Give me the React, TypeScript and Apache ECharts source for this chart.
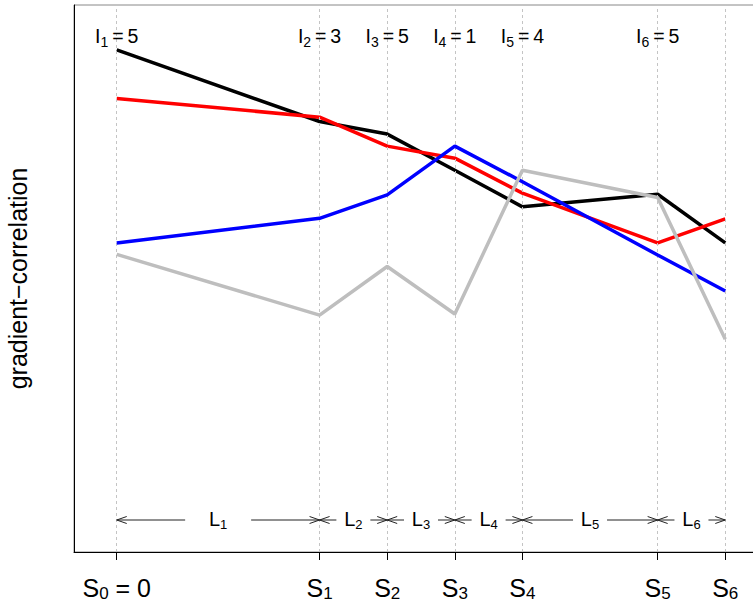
import React, { useEffect, useRef } from "react";
import * as echarts from "echarts";

// Positions S0..S6 along the x axis (cumulative lengths L1..L6 = 3,1,1,1,2,1)
const sPositions = [0, 3, 4, 5, 6, 8, 9];
// I_i labels shown above S_{i-1}
const iValues = [5, 3, 5, 1, 4, 5];
// gradient-correlation curves (arbitrary units, 0 = bottom of plot, 1 = top)
const blackValues = [0.918, 0.787, 0.764, 0.698, 0.631, 0.654, 0.565];
const redValues = [0.829, 0.795, 0.742, 0.72, 0.656, 0.565, 0.609];
const blueValues = [0.565, 0.61, 0.653, 0.742, 0.677, 0.543, 0.477];
const grayValues = [0.544, 0.433, 0.522, 0.435, 0.698, 0.648, 0.389];

const FONT = "Liberation Sans, Arial, Helvetica, sans-serif";
const Y_ARROW = 0.0585;
const Y_TOP = 0.943;

export default function App() {
  const ref = useRef<HTMLDivElement>(null);

  useEffect(() => {
    if (!ref.current) return;
    const chart = echarts.init(ref.current, null, { renderer: "svg" });

    const mkLine = (vals: number[], color: string, z: number) => ({
      type: "line",
      data: sPositions.map((x, i) => [x, vals[i]]),
      symbol: "none",
      lineStyle: { color, width: 3.5 },
      itemStyle: { color },
      z,
      silent: true,
    });

    const segData = sPositions.slice(1).map((x, i) => [sPositions[i], x]);
    const iData = iValues.map((v, i) => [sPositions[i], v]);

    const option: any = {
      animation: false,
      grid: {
        left: 74,
        top: 5,
        width: 694,
        height: 547,
        outerBoundsMode: "none",
        containLabel: false,
        show: true,
        borderColor: "#888",
        borderWidth: 1,
        backgroundColor: "transparent",
      },
      xAxis: {
        type: "value",
        min: -0.632,
        max: 9.632,
        splitLine: { show: false },
        axisLine: { show: true, onZero: false, lineStyle: { color: "#000", width: 1 } },
        axisTick: {
          show: true,
          customValues: sPositions,
          length: 8,
          lineStyle: { color: "#000", width: 1 },
        },
        axisLabel: {
          show: true,
          customValues: sPositions,
          margin: 22,
          formatter: (val: number) => {
            const idx = sPositions.indexOf(val);
            if (idx === 0) return `{m|S}{s|0}{e| = 0}`;
            return `{m|S}{s|${idx}}`;
          },
          rich: {
            m: { fontSize: 25, fontFamily: FONT, color: "#000" },
            e: { fontSize: 25, fontFamily: FONT, color: "#000" },
            s: { fontSize: 17, fontFamily: FONT, color: "#000", padding: [11, 0, 0, 0] },
          },
        },
      },
      yAxis: {
        type: "value",
        min: 0,
        max: 1,
        splitLine: { show: false },
        axisTick: { show: false },
        axisLabel: { show: false },
        axisLine: { show: true, onZero: false, lineStyle: { color: "#000", width: 1 } },
        name: "gradient\u2212correlation",
        nameLocation: "middle",
        nameGap: 44,
        nameRotate: 90,
        nameTextStyle: { fontSize: 25, fontFamily: FONT, color: "#000" },
      },
      series: [
        {
          type: "line",
          data: [],
          symbol: "none",
          z: 1,
          silent: true,
          markLine: {
            silent: true,
            symbol: ["none", "none"],
            label: { show: false },
            lineStyle: { color: "#c4c4c4", type: [3, 3], width: 1 },
            data: sPositions.map((x) => ({ xAxis: x })),
          },
        },
        mkLine(blackValues, "#000000", 3),
        mkLine(redValues, "#ff0000", 4),
        mkLine(blueValues, "#0000ff", 5),
        mkLine(grayValues, "#bebebe", 6),
        {
          type: "custom",
          z: 7,
          clip: false,
          silent: true,
          data: segData,
          renderItem: (params: any, api: any) => {
            const idx = params.dataIndex;
            const p0 = api.coord([api.value(0), Y_ARROW]);
            const p1 = api.coord([api.value(1), Y_ARROW]);
            const y = p0[1];
            const mid = (p0[0] + p1[0]) / 2;
            const gap = idx === 0 ? 33 : 17;
            const ah = 10;
            const aw = 3.5;
            const ls = { stroke: "#222", lineWidth: 1, fill: "none" };
            return {
              type: "group",
              children: [
                { type: "line", shape: { x1: p0[0], y1: y, x2: mid - gap, y2: y }, style: ls },
                { type: "line", shape: { x1: mid + gap, y1: y, x2: p1[0], y2: y }, style: ls },
                {
                  type: "polyline",
                  shape: { points: [[p0[0] + ah, y - aw], [p0[0], y], [p0[0] + ah, y + aw]] },
                  style: ls,
                },
                {
                  type: "polyline",
                  shape: { points: [[p1[0] - ah, y - aw], [p1[0], y], [p1[0] - ah, y + aw]] },
                  style: ls,
                },
                {
                  type: "text",
                  x: mid,
                  y: y - 1,
                  style: {
                    text: `{m|L}{s|${idx + 1}}`,
                    align: "center",
                    verticalAlign: "middle",
                    rich: {
                      m: { fontSize: 20, fontFamily: FONT, fill: "#000" },
                      s: { fontSize: 13, fontFamily: FONT, fill: "#000", padding: [11, 0, 0, 0] },
                    },
                  },
                },
              ],
            };
          },
        },
        {
          type: "custom",
          z: 7,
          clip: false,
          silent: true,
          data: iData,
          renderItem: (params: any, api: any) => {
            const idx = params.dataIndex;
            const p = api.coord([api.value(0), Y_TOP]);
            return {
              type: "text",
              x: p[0],
              y: p[1],
              style: {
                text: `{m|I}{s|${idx + 1}}{m|\u2009=\u2009${api.value(1)}}`,
                align: "center",
                verticalAlign: "middle",
                rich: {
                  m: { fontSize: 19.5, fontFamily: FONT, fill: "#000" },
                  s: { fontSize: 14, fontFamily: FONT, fill: "#000", padding: [12, 0, 0, 0] },
                },
              },
            };
          },
        },
      ],
    };

    chart.setOption(option);
    return () => chart.dispose();
  }, []);

  return (
    <div
      ref={ref}
      style={{ position: "fixed", left: 0, top: 0, width: 753, height: 608, background: "#fff" }}
    />
  );
}
